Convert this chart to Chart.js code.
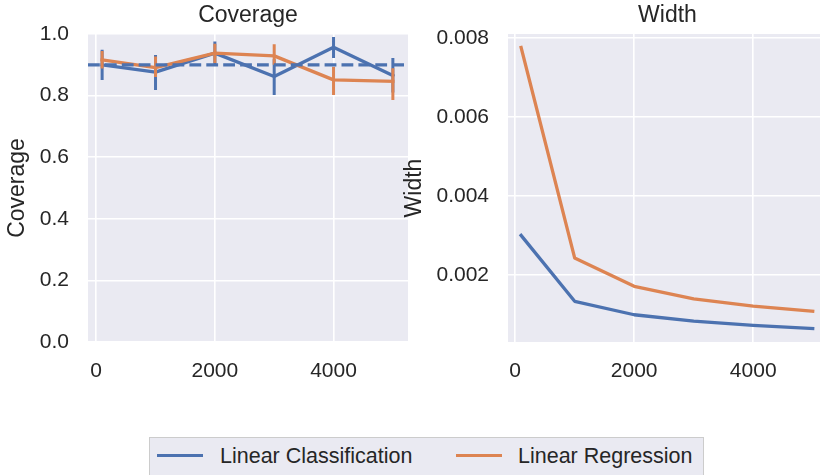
<!DOCTYPE html>
<html>
<head>
<meta charset="utf-8">
<script src="https://cdn.jsdelivr.net/npm/chart.js@4.4.1/dist/chart.umd.min.js"></script>
<style>
  html, body { margin: 0; padding: 0; background: #fff; width: 820px; height: 475px; overflow: hidden; }
  canvas { position: absolute; top: 0; }
  #coverageChart { left: 0; }
  #widthChart { left: 395px; }
  #legend {
    position: absolute; left: 149px; top: 437px; width: 553px; height: 50px;
    background: #eaeaf2; border: 1px solid #cccccc;
    font-family: "Liberation Sans", Arial, sans-serif; font-size: 21.5px; color: #262626;
  }
  #legend .swatch { position: absolute; top: 16px; width: 46px; height: 3px; }
  #legend .label { position: absolute; top: 8px; line-height: 21.5px; white-space: nowrap; }
</style>
</head>
<body>
<canvas id="coverageChart" width="410" height="400"></canvas>
<canvas id="widthChart" width="432" height="400"></canvas>
<div id="legend">
  <div class="swatch" style="left:7px;background:#4c72b0"></div>
  <div class="label" style="left:70px">Linear Classification</div>
  <div class="swatch" style="left:306px;background:#dd8452"></div>
  <div class="label" style="left:368px">Linear Regression</div>
</div>
<script>
// sample sizes on the x axis
const xValues = [100, 1000, 2000, 3000, 4000, 5000];
const xTicks = [0, 2000, 4000];

// coverage (mean + error bar ends)
const covClass   = [0.900, 0.876, 0.938, 0.862, 0.957, 0.865];
const covClassLo = [0.851, 0.818, 0.900, 0.802, 0.922, 0.810];
const covClassHi = [0.949, 0.932, 0.976, 0.918, 0.990, 0.922];
const covReg     = [0.916, 0.891, 0.938, 0.929, 0.851, 0.846];
const covRegLo   = [0.888, 0.860, 0.906, 0.900, 0.802, 0.786];
const covRegHi   = [0.945, 0.927, 0.968, 0.967, 0.894, 0.889];
const targetCoverage = 0.9;
const coverageTicks = [0, 0.2, 0.4, 0.6, 0.8, 1.0];

// interval width
const widthClass = [0.00300, 0.00133, 0.00099, 0.00083, 0.00072, 0.00064];
const widthReg   = [0.00776, 0.00243, 0.00171, 0.00139, 0.00121, 0.00108];
const widthTicks = [0.002, 0.004, 0.006, 0.008];

const blue = '#4c72b0';
const orange = '#dd8452';
const fontFamily = '"Liberation Sans", Arial, sans-serif';
const textColor = '#262626';

// fundo cinza da área do gráfico (estilo seaborn)
const plotBg = {
  id: 'plotBg',
  beforeDraw(chart) {
    const { ctx, chartArea: a } = chart;
    ctx.save();
    ctx.fillStyle = '#eaeaf2';
    ctx.fillRect(a.left, a.top, a.right - a.left, a.bottom - a.top);
    ctx.restore();
  }
};

function points(xs, ys) {
  return xs.map((x, i) => ({ x: x, y: ys[i] }));
}

// vertical error bars as segments separated by gaps
function errorSegments(xs, lo, hi) {
  const pts = [];
  xs.forEach((x, i) => {
    pts.push({ x: x, y: lo[i] }, { x: x, y: hi[i] }, { x: x, y: null });
  });
  return pts;
}

function lineSet(data, color, order) {
  return {
    data: data, borderColor: color, borderWidth: 3.3, pointRadius: 0,
    tension: 0, fill: false, borderJoinStyle: 'round', borderCapStyle: 'square', order: order
  };
}

function errSet(data, color, order) {
  return {
    data: data, borderColor: color, borderWidth: 3, pointRadius: 0,
    fill: false, spanGaps: false, borderCapStyle: 'butt', order: order
  };
}

function xScale(min, max) {
  return {
    type: 'linear', min: min, max: max,
    afterBuildTicks: s => { s.ticks = xTicks.map(v => ({ value: v })); },
    afterFit: s => { s.height = 58; },
    grid: { color: '#ffffff', lineWidth: 1.6, drawTicks: false },
    border: { display: false },
    ticks: { font: { family: fontFamily, size: 21 }, color: textColor, padding: 17, callback: v => String(v) }
  };
}

function yScale(min, max, ticks, decimals, width, label, titlePad) {
  return {
    type: 'linear', min: min, max: max,
    afterBuildTicks: s => { s.ticks = ticks.map(v => ({ value: v })); },
    afterFit: s => { s.width = width; },
    grid: { color: '#ffffff', lineWidth: 1.6, drawTicks: false },
    border: { display: false },
    ticks: { font: { family: fontFamily, size: 21 }, color: textColor, padding: 19, callback: v => v.toFixed(decimals) },
    title: { display: true, text: label, color: textColor, font: { family: fontFamily, size: 23 }, padding: { top: titlePad, bottom: 0 } }
  };
}

function titleOpts(text) {
  return {
    display: true, text: text, color: textColor, fullSize: false,
    font: { family: fontFamily, size: 23, weight: 'normal' },
    padding: { top: 2, bottom: 4.4 }
  };
}

const commonPlugins = { legend: { display: false }, tooltip: { enabled: false } };

// linha tracejada do alvo (0.9) de ponta a ponta do eixo x
const targetLine = lineSet([{ x: -138, y: targetCoverage }, { x: 5255, y: targetCoverage }], blue, 0);
targetLine.borderDash = [11.8, 5.1];
targetLine.borderCapStyle = 'butt';

new Chart(document.getElementById('coverageChart'), {
  type: 'line',
  data: {
    datasets: [
      targetLine,
      errSet(errorSegments(xValues, covRegLo, covRegHi), orange, 1),
      lineSet(points(xValues, covReg), orange, 2),
      errSet(errorSegments(xValues, covClassLo, covClassHi), blue, 3),
      lineSet(points(xValues, covClass), blue, 4)
    ]
  },
  options: {
    responsive: false, animation: false,
    layout: { padding: { right: 2 } },
    scales: {
      x: xScale(-138, 5255),
      y: yScale(0, 1, coverageTicks, 1, 88, 'Coverage', 4)
    },
    plugins: Object.assign({ title: titleOpts('Coverage') }, commonPlugins)
  },
  plugins: [plotBg]
});

new Chart(document.getElementById('widthChart'), {
  type: 'line',
  data: {
    datasets: [
      lineSet(points(xValues, widthReg), orange, 0),
      lineSet(points(xValues, widthClass), blue, 1)
    ]
  },
  options: {
    responsive: false, animation: false,
    scales: {
      x: xScale(-120, 5240),
      y: yScale(0.0003, 0.0081, widthTicks, 3, 113, 'Width', 5.7)
    },
    plugins: Object.assign({ title: titleOpts('Width') }, commonPlugins)
  },
  plugins: [plotBg]
});
</script>
</body>
</html>
